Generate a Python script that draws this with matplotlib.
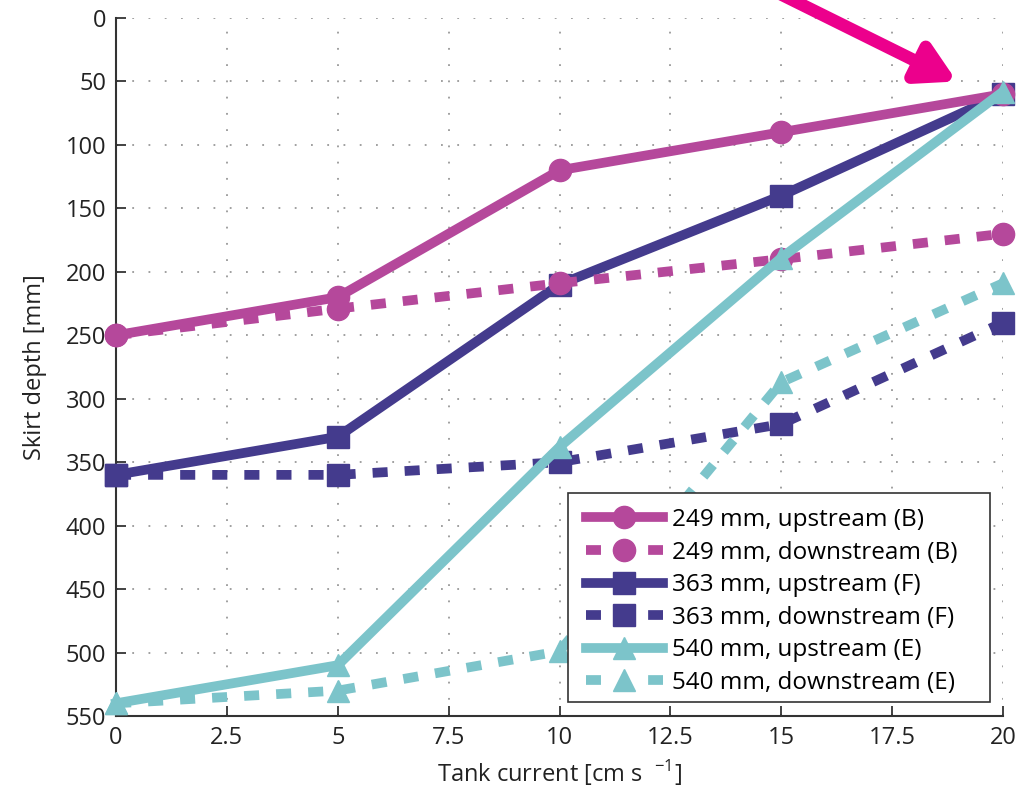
import matplotlib
matplotlib.use("Agg")
import matplotlib.pyplot as plt
from matplotlib.lines import Line2D
from matplotlib.patches import Rectangle

x = [0, 5, 10, 15, 20]
up_249 = [250, 220, 120, 90, 60]
down_249 = [250, 229, 209, 190, 170]
up_363 = [360, 330, 210, 140, 60]
down_363 = [360, 360, 350, 320, 240]
up_540 = [540, 510, 338, 189, 58]
down_540 = [540, 530, 499, 287, 209]

labels = ["249 mm, upstream (B)", "249 mm, downstream (B)",
          "363 mm, upstream (F)", "363 mm, downstream (F)",
          "540 mm, upstream (E)", "540 mm, downstream (E)"]
xtick_labels = ["0", "2.5", "5", "7.5", "10", "12.5", "15", "17.5", "20"]
xtick_vals = [0, 2.5, 5, 7.5, 10, 12.5, 15, 17.5, 20]

c_mag = "#B5489B"
c_navy = "#443B8D"
c_teal = "#7CC4CA"

plt.rcParams['font.family'] = ['Open Sans', 'DejaVu Sans']
plt.rcParams['mathtext.fontset'] = 'custom'
plt.rcParams['mathtext.rm'] = 'Open Sans'

W, H = 1019, 794
fig = plt.figure(figsize=(W/100, H/100), dpi=100)
ax = fig.add_axes([116/W, 1-716/H, (1003-116)/W, (716-18)/H])

lw = 7
ms = 16
dash = (0, (1.55, 1.75))
series = [
    (up_363, c_navy, '-', 's'),
    (down_363, c_navy, dash, 's'),
    (up_249, c_mag, '-', 'o'),
    (down_249, c_mag, dash, 'o'),
    (down_540, c_teal, dash, '^'),
    (up_540, c_teal, '-', '^'),
]
for ys, c, ls, m in series:
    ax.plot(x, ys, color=c, ls=ls, lw=lw, marker=m, ms=ms, clip_on=False, zorder=3)

ax.set_xlim(0, 20)
ax.set_ylim(550, 0)
ax.set_xticks(xtick_vals)
ax.set_xticklabels(xtick_labels)
ax.set_yticks(range(0, 551, 50))
ax.grid(True, ls=(0, (1, 8)), color='#999999', lw=1.3)
for s in ['top', 'right']:
    ax.spines[s].set_visible(False)
for s in ['left', 'bottom']:
    ax.spines[s].set_color('#333333')
    ax.spines[s].set_linewidth(1.5)
ax.tick_params(direction='in', length=7, width=1.2, labelsize=17, colors='#222222', pad=7)
ax.set_xlabel("Tank current [cm s  $^{-1}$]", fontsize=17, color='#222222', labelpad=6)
ax.set_ylabel("Skirt depth [mm]", fontsize=17, color='#222222')
ax.yaxis.set_label_coords(-0.078, 0.5)

# legend frame box
frame = Rectangle((568/W, 1-702/H), (990-568)/W, (702-493)/H, transform=fig.transFigure,
                  facecolor='white', edgecolor='#333333', lw=1.2, zorder=4.5, clip_on=False)
ax.add_patch(frame)

leg_dash = (0, (1.54, 4.85))
handles = [
    Line2D([], [], color=c_mag, ls='-', lw=lw, marker='o', ms=ms),
    Line2D([], [], color=c_mag, ls=leg_dash, lw=lw, marker='o', ms=ms),
    Line2D([], [], color=c_navy, ls='-', lw=lw, marker='s', ms=ms),
    Line2D([], [], color=c_navy, ls=leg_dash, lw=lw, marker='s', ms=ms),
    Line2D([], [], color=c_teal, ls='-', lw=lw, marker='^', ms=ms),
    Line2D([], [], color=c_teal, ls=leg_dash, lw=lw, marker='^', ms=ms),
]
leg = ax.legend(handles, labels, loc='upper left', bbox_to_anchor=(586/W, 1-508/H),
                bbox_transform=fig.transFigure, fontsize=17.5, handlelength=3.15,
                frameon=False, borderpad=0, labelspacing=0.35, handletextpad=0.4,
                borderaxespad=0)
leg.set_zorder(5)

ax.annotate("", xy=(18.96, 50), xytext=(14.8, -22),
            arrowprops=dict(arrowstyle='-|>,head_length=1.1,head_width=0.62',
                            mutation_scale=20, color='#EC008C', lw=9,
                            shrinkA=0, shrinkB=0),
            annotation_clip=False, zorder=6)

fig.savefig("out.png", dpi=100)
